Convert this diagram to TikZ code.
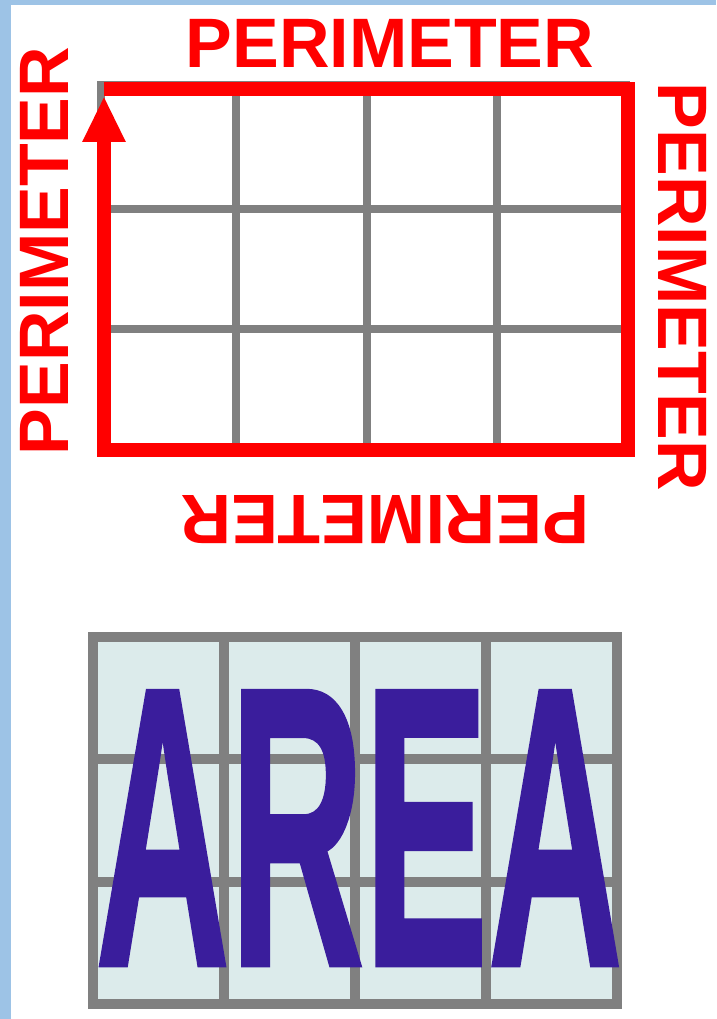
\documentclass[tikz,border=0pt]{standalone}
\usepackage{fontspec}
\setmainfont{Liberation Sans}
\newfontfamily\areafont{Liberation Sans}[BoldFeatures={FakeBold=1.2}]
\usetikzlibrary{arrows.meta}
\definecolor{perired}{HTML}{FF0000}
\definecolor{gridgray}{HTML}{808080}
\definecolor{areablue}{HTML}{3A1D9C}
\definecolor{areafill}{HTML}{DCEBEB}
\definecolor{framebl}{HTML}{9DC3E6}
\tikzset{
  peri/.style={text=perired, font=\fontsize{70}{70}\selectfont\bfseries, inner sep=0pt, anchor=base},
  topgrid/.style={draw=gridgray, line width=8pt},
  areagrid/.style={draw=gridgray, line width=10pt},
  periline/.style={draw=perired, line width=14pt, line join=miter},
}
\begin{document}
\begin{tikzpicture}[x=1pt,y=-1pt]
\useasboundingbox (0,0) rectangle (716,1019);
\fill[white] (0,0) rectangle (716,1019);
% frame
\fill[framebl] (0,0) rectangle (11,1019);
\fill[framebl] (0,0) rectangle (716,5);

% top grid (gray)
\draw[topgrid] (101,85) rectangle (626,448);
\foreach \x in {236,367,497} \draw[topgrid] (\x,89) -- (\x,450);
\foreach \y in {209,329} \draw[topgrid] (104,\y) -- (628,\y);

% red perimeter path
\coordinate (tl) at (104,89);
\coordinate (tr) at (628,89);
\coordinate (br) at (628,450);
\coordinate (bl) at (104,450);
\coordinate (tip) at (104,96);
\draw[periline, -{Triangle[length=46pt,width=40pt]}] (tl) -- (tr) -- (br) -- (bl) -- (tip);

% perimeter labels
\node[peri] (ptop) at (390,68) {PERIMETER};
\node[peri, rotate=90] (pleft) at (68,251) {PERIMETER};
\node[peri, rotate=-90] (pright) at (658,287) {PERIMETER};
\node[peri, rotate=180] (pbottom) at (385,495) {PERIMETER};

% area grid
\fill[areafill] (93,637) rectangle (617,1004);
\draw[areagrid] (93,637) rectangle (617,1004);
\foreach \x in {224,355,486} \draw[areagrid] (\x,637) -- (\x,1004);
\foreach \y in {759,882} \draw[areagrid] (93,\y) -- (617,\y);

% area text
\node[anchor=base, inner sep=0pt, text=areablue] (area) at (359,965)
  {\scalebox{1.86}[3.98]{\fontsize{100}{100}\selectfont\areafont\bfseries AREA}};
\end{tikzpicture}
\end{document}
